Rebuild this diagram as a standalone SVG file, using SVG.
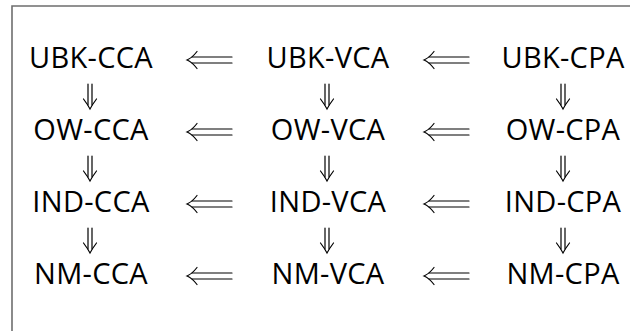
<svg xmlns="http://www.w3.org/2000/svg" width="630" height="331" viewBox="0 0 630 331">
<style>
.lbl{font-family:"Open Sans","DejaVu Sans",sans-serif;font-size:29px;font-weight:400;letter-spacing:0.3px;fill:#000;text-anchor:middle}
.arr{fill:none;stroke:#000;stroke-width:1.2;stroke-linecap:round}
</style>
<defs>
<g id="larr" class="arr"><path d="M5,-3 H45 M5,3 H45"/><path d="M10,-8.5 Q5,-2 0,0 Q5,2 10,8.5"/></g>
<g id="darr" class="arr"><path d="M-2,-25 V-4 M2,-25 V-4"/><path d="M-6.5,-10 Q-2,-4 0,0 Q2,-4 6.5,-10"/></g>
</defs>
<rect width="630" height="331" fill="#fff"/>
<path d="M12,331 V6 H630" fill="none" stroke="#6e6e6e" stroke-width="1.6"/>
<g id="n-ubk-cca"><text class="lbl" x="91" y="68">UBK-CCA</text></g>
<g id="n-ubk-vca"><text class="lbl" x="328" y="68">UBK-VCA</text></g>
<g id="n-ubk-cpa"><text class="lbl" x="563" y="68">UBK-CPA</text></g>
<g id="n-ow-cca"><text class="lbl" x="91" y="140">OW-CCA</text></g>
<g id="n-ow-vca"><text class="lbl" x="328" y="140">OW-VCA</text></g>
<g id="n-ow-cpa"><text class="lbl" x="563" y="140">OW-CPA</text></g>
<g id="n-ind-cca"><text class="lbl" x="91" y="212">IND-CCA</text></g>
<g id="n-ind-vca"><text class="lbl" x="328" y="212">IND-VCA</text></g>
<g id="n-ind-cpa"><text class="lbl" x="563" y="212">IND-CPA</text></g>
<g id="n-nm-cca"><text class="lbl" x="91" y="284">NM-CCA</text></g>
<g id="n-nm-vca"><text class="lbl" x="328" y="284">NM-VCA</text></g>
<g id="n-nm-cpa"><text class="lbl" x="563" y="284">NM-CPA</text></g>
<g id="connectors">
<use href="#larr" x="187" y="60"/>
<use href="#larr" x="424" y="60"/>
<use href="#larr" x="187" y="132"/>
<use href="#larr" x="424" y="132"/>
<use href="#larr" x="187" y="204"/>
<use href="#larr" x="424" y="204"/>
<use href="#larr" x="187" y="276"/>
<use href="#larr" x="424" y="276"/>
<use href="#darr" x="90" y="109"/>
<use href="#darr" x="327" y="109"/>
<use href="#darr" x="563" y="109"/>
<use href="#darr" x="90" y="181"/>
<use href="#darr" x="327" y="181"/>
<use href="#darr" x="563" y="181"/>
<use href="#darr" x="90" y="253"/>
<use href="#darr" x="327" y="253"/>
<use href="#darr" x="563" y="253"/>
</g>
</svg>
